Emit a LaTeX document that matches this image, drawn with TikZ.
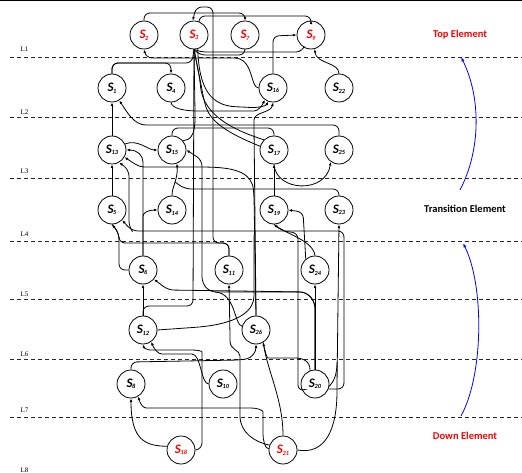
\documentclass[tikz,border=0pt]{standalone}
\usepackage{fontspec}
\setmainfont{Carlito}
\newfontfamily\lvfont{Liberation Serif}
\usetikzlibrary{arrows.meta}
% element label: bold italic S with a small bold index
\newcommand{\elm}[1]{{\fontsize{13}{13}\selectfont\bfseries\itshape S\kern-0.4pt\raisebox{-1.5pt}{\fontsize{6.3}{6.3}\selectfont\bfseries #1}}}
\begin{document}
\begin{tikzpicture}[x=1pt,y=-1pt,
  st/.style={circle,draw,line width=0.8pt,minimum size=28pt,inner sep=0pt},
  rd/.style={st,text=red},
  ln/.style={draw,line width=0.8pt,rounded corners=6pt},
  ar/.style={-{Latex[length=3.6pt,width=2.8pt]}},
  lvline/.style={line width=0.8pt,black!85,dash pattern=on 4pt off 3pt},
  lvtext/.style={font=\lvfont\fontsize{7}{8}\selectfont,anchor=west,inner sep=0pt},
  side/.style={font=\bfseries\fontsize{10.5}{12}\selectfont,inner sep=0pt},
  flow/.style={blue,line width=0.8pt,-{Latex[length=4.5pt,width=3pt]}}
]
\useasboundingbox (0,0) rectangle (522,473);
\draw[line width=1.5pt] (0,0.75) -- (522,0.75);

% levels
\foreach \y/\n/\ly in {57/1/49.5,117/2/112.5,178/3/171,241/4/234.3,299/5/293.8,359/6/354,417/7/410}{
  \draw[lvline] (10,\y) -- (522,\y);
  \node[lvtext] (L\n) at (20.5,\ly) {L\n};
}
\node[lvtext] (L8) at (20.5,470) {L8};

% side captions
\node[side,text=red] (top) at (460,35) {Top Element};
\node[side] (mid) at (465,209) {Transition Element};
\node[side,text=red] (down) at (465,436) {Down Element};
\coordinate (f1) at (460,190); \coordinate (f2) at (461,57);
\coordinate (f3) at (461,416); \coordinate (f4) at (463,243);
\draw[flow] (f1) .. controls (481,150) and (481,97) .. (f2);
\draw[flow] (f3) .. controls (484,374) and (484,285) .. (f4);

% elements
\node[rd] (S2) at (144,35) {\elm{2}};
\node[rd] (S3) at (194,35) {\elm{3}};
\node[rd] (S7) at (245,35) {\elm{7}};
\node[rd] (S9) at (311,35) {\elm{9}};
\node[st] (S1) at (112,88) {\elm{1}};
\node[st] (S4) at (171,88) {\elm{4}};
\node[st] (S16) at (273,88) {\elm{16}};
\node[st] (S22) at (339,88) {\elm{22}};
\node[st] (S13) at (112,150) {\elm{13}};
\node[st] (S15) at (172,150) {\elm{15}};
\node[st] (S17) at (274,150) {\elm{17}};
\node[st] (S25) at (339,150) {\elm{25}};
\node[st] (S5) at (112,210) {\elm{5}};
\node[st] (S14) at (172,210) {\elm{14}};
\node[st] (S19) at (274,210) {\elm{19}};
\node[st] (S23) at (339,210) {\elm{23}};
\node[st] (S6) at (143,270) {\elm{6}};
\node[st] (S11) at (229,270) {\elm{11}};
\node[st] (S24) at (315,270) {\elm{24}};
\node[st] (S12) at (143,330) {\elm{12}};
\node[st] (S26) at (256,330) {\elm{26}};
\node[st] (S8) at (131,384) {\elm{8}};
\node[st] (S10) at (223,384) {\elm{10}};
\node[st] (S20) at (315,384) {\elm{20}};
\node[rd] (S18) at (181,450) {\elm{18}};
\node[rd] (S21) at (283,450) {\elm{21}};

% junctions where connectors merge
\coordinate (j5) at (132,231);
\coordinate (j6) at (215,292);
\coordinate (j15) at (175,182);
\coordinate (j16) at (254,235);
\coordinate (j23) at (337,362);

% top level
\draw[ln,ar] (S2.north) -- (144,13) -- (245,13) -- (S7.north);
\draw[ln,ar] (S3.70) -- (199,16) -- (311,16) -- (S9.north);
\draw[ln,ar] (S11.north) -- (229,243) -- (213,243) -- (213,7) -- (196,7) -- (S3.95);
\draw[ln] (S1.north) -- (112,63) -- (192,63) -- (S3.south);
\draw[ln,ar] (S1.north) -- (112,63) -- (171,63) -- (S4.north);
\draw[ln] (S7.south) -- (245,55) -- (199,55) -- (S3.south);
\draw[ln] (S9.240) -- (302,52) -- (200,52) -- (S3.south);
\draw[ln,ar] (S16.west) .. controls (250,88) and (254,58) .. (228,58) -- (146,58) -- (S2.south);
\draw[ln,ar] (S16.north) -- (273,36) -- (S9.west);
\draw[ln,ar] (S22.north) .. controls (339,62) and (316,64) .. (S9.285);
\draw[ln,ar] (S3.285) .. controls (199,88) and (210,106) .. (243,107) .. controls (258,108) and (266,106) .. (S16.250);
\draw[ln,ar] (S4.south) .. controls (172,108) and (182,111) .. (205,111) -- (248,111) .. controls (258,111) and (262,106) .. (S16.235);

% second and third levels
\draw[ln,ar] (S13.north) -- (S1.south);
\draw[ln,ar] (S25.north) -- (339,125) -- (152,125) .. controls (134,125) and (127,112) .. (S1.300);
\draw[ln,ar] (S13.25) .. controls (138,139) and (148,150) .. (S15.west);
\draw[ln] (S15.north) -- (172,128) -- (274,128) -- (S17.north);
\draw[ln] (S17.135) .. controls (240,132) and (203,118) .. (200,80) -- (S3.south);
\draw[ln] (S17.165) .. controls (245,140) and (215,128) .. (205,105) -- (S3.south);
\draw[ln] (S15.40) .. controls (190,140) and (195,136) .. (195,112) -- (S3.south);
\draw[ln,ar] (S5.north) -- (S13.south);
\draw[ln,ar] (S14.north) .. controls (172,186) and (178,180) .. (S15.290);
\draw[ln] (S23.north) -- (339,189) -- (185,189) -- (j15);
\draw[ln,ar] (S19.north) -- (S17.south);
\draw[ln,ar] (S17.south) .. controls (276,192) and (326,194) .. (S25.235);

% long risers from the lower levels
\draw[ln,ar] (S12.north) -- (143,306) -- (193,306) -- (S3.south);
\draw[ln,ar] (S12.north) -- (S6.south);
\draw[ln,ar] (S6.north) -- (143,168) .. controls (143,156) and (138,150) .. (S13.east);
\draw[ln,ar] (S6.north) -- (143,222) .. controls (143,213) and (148,210) .. (S14.west);
\draw[ln,ar] (S6.west) -- (119,270) -- (119,233) -- (S5.south);
\draw[ln] (S11.north) -- (229,243) -- (119,243) -- (119,233) -- (S5.south);
\draw[ln,ar] (S20.north) -- (315,302) -- (306,292) -- (210,292) -- (202,283) -- (202,160) -- (S15.east);
\draw[ln,ar] (S20.north) -- (315,302) -- (306,292) -- (168,290) -- (S6.320);
\draw[ln] (S26.165) .. controls (234,325) and (236,293) .. (j6);
\draw[ln,ar] (S26.north) -- (254,126) .. controls (254,112) and (271,113) .. (S16.south);
\draw[ln] (S12.east) -- (200,327) .. controls (240,322) and (254,310) .. (254,290) -- (j16);
\draw[ln,ar] (S26.north) -- (254,196) .. controls (252,174) and (238,168) .. (205,167) -- (150,167) .. controls (138,167) and (132,162) .. (S13.330);
\draw[ln,ar] (S20.340) -- (344,389) -- (344,231) -- (j5) -- (S5.315);
\draw[ln,ar] (j5) -- (129,227) -- (129,170) -- (S13.300);
\draw[ln,ar] (S24.130) -- (303,212) -- (S19.east);
\draw[ln] (S24.north) .. controls (313,240) and (285,234) .. (S19.south);
\draw[ln,ar] (S20.205) -- (298,391) -- (298,233) -- (282,231) -- (S19.south);
\draw[ln,ar] (S20.north) -- (S24.south);
\draw[ln,ar] (S21.east) .. controls (325,455) and (337,430) .. (337,385) -- (S23.south);
\draw[ln] (S20.350) .. controls (334,381) and (337,375) .. (j23);

% bottom levels
\draw[ln] (S20.110) .. controls (310,360) and (302,358) .. (288,358) -- (274,358) .. controls (267,358) and (265,352) .. (S26.300);
\draw[ln,ar] (S21.north) .. controls (283,400) and (268,372) .. (S26.300);
\draw[ln,ar] (S8.north) -- (131,362) -- (240,360) .. controls (252,358) and (256,352) .. (S26.south);
\draw[ln,ar] (S10.west) .. controls (201,384) and (201,354) .. (186,354) -- (168,354) .. controls (158,354) and (154,349) .. (S12.305);
\draw[ln,ar] (S18.east) -- (202,449) -- (202,358) .. controls (202,351) and (197,350) .. (186,350) -- (156,350) .. controls (148,350) and (144,348) .. (S12.south);
\draw[ln,ar] (S18.165) .. controls (145,446) and (131,440) .. (S8.south);
\draw[ln,ar] (S21.175) .. controls (265,449) and (263,440) .. (263,428) -- (263,418) .. controls (263,410) and (257,408) .. (245,408) -- (152,408) .. controls (143,408) and (140,403) .. (S8.300);
\draw[ln,ar] (S21.160) .. controls (254,442) and (240,432) .. (240,410) -- (240,362) .. controls (240,350) and (230,350) .. (230,335) -- (S11.south);
\end{tikzpicture}
\end{document}
